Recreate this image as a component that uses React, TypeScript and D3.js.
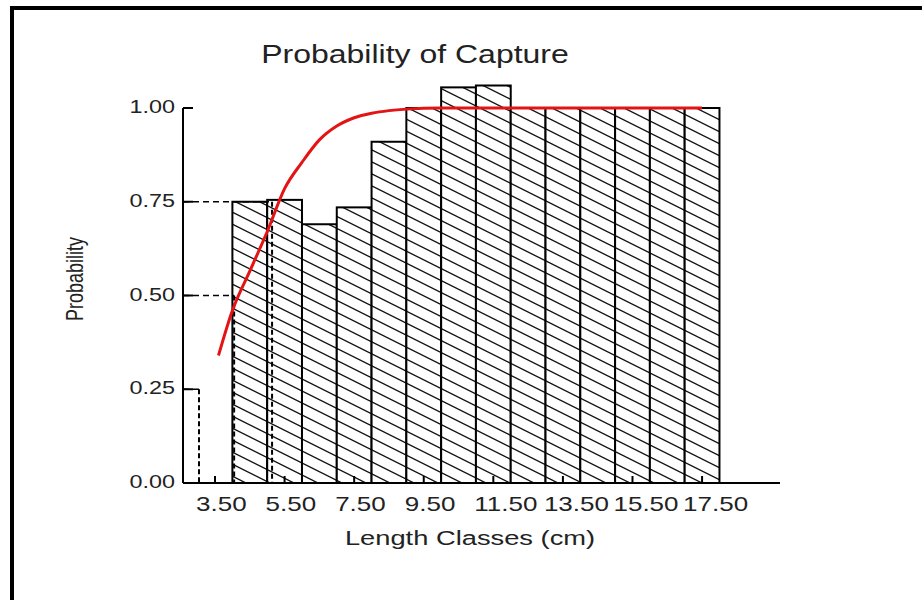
import React, { useRef, useEffect } from "react"
import * as d3 from "d3"

// length classes (lower bound, cm) and observed retention per class
const classLower = [4, 5, 6, 7, 8, 9, 10, 11, 12, 13, 14, 15, 16, 17]
const observedProb = [0.75, 0.755, 0.69, 0.735, 0.91, 1.0, 1.055, 1.06, 1.0, 1.0, 1.0, 1.0, 1.0, 1.0]

// fitted selection curve
const curveLength = [3.6, 4.0, 4.5, 5.0, 5.5, 6.0, 6.5, 7.0, 7.5, 8.0, 8.5, 9.0, 10.0, 11.0, 12.0, 13.0, 14.0, 15.0, 16.0, 17.0, 17.5]
const curveProb = [0.34, 0.46, 0.565, 0.67, 0.785, 0.855, 0.915, 0.952, 0.974, 0.986, 0.993, 0.997, 1.0, 1.0, 1.0, 1.0, 1.0, 1.0, 1.0, 1.0, 1.0]

// L25, L50, L75 markers
const selProb = [0.25, 0.5, 0.75]
const selLength = [3.04, 4.05, 5.14]

const xTicks = [3.5, 5.5, 7.5, 9.5, 11.5, 13.5, 15.5, 17.5]
const yTicks = [0, 0.25, 0.5, 0.75, 1.0]

const W = 922
const H = 600
const SX = 1.3 // the picture is stretched sideways, so is the text

const App: React.FC = () => {
  const svgRef = useRef<SVGSVGElement | null>(null)

  useEffect(() => {
    if (!svgRef.current) return
    const svg = d3.select(svgRef.current)
    svg.selectAll("*").remove()

    const font = "Arial, 'Liberation Sans', sans-serif"
    const x = d3.scaleLinear().domain([2.58, 19.74]).range([183, 780])
    const y = d3.scaleLinear().domain([0, 1]).range([483, 108])
    const [x0, x1] = x.range()
    const [y0, y1] = y.range()

    // frame
    svg.append("line").attr("x1", 12).attr("x2", 12).attr("y1", 6).attr("y2", H)
      .attr("stroke", "#000").attr("stroke-width", 4)
    svg.append("line").attr("x1", 10).attr("x2", W).attr("y1", 8).attr("y2", 8)
      .attr("stroke", "#000").attr("stroke-width", 4)

    // hatch pattern
    const pat = svg.append("defs").append("pattern")
      .attr("id", "hatch").attr("patternUnits", "userSpaceOnUse")
      .attr("width", 24).attr("height", 12)
    pat.append("rect").attr("width", 24).attr("height", 12).attr("fill", "#fff")
    pat.append("path").attr("d", "M-2,-1 L26,13 M-2,11 L2,13 M22,-1 L26,1")
      .attr("stroke", "#111").attr("stroke-width", 1.3)

    // bars
    svg.append("g").selectAll("rect")
      .data(classLower)
      .enter()
      .append("rect")
      .attr("x", (d) => x(d))
      .attr("y", (d, i) => y(observedProb[i]))
      .attr("width", (d) => x(d + 1) - x(d))
      .attr("height", (d, i) => y(0) - y(observedProb[i]))
      .attr("fill", "url(#hatch)")
      .attr("stroke", "#000")
      .attr("stroke-width", 2)

    // L25 / L50 / L75 guides
    const guides = svg.append("g")
    selProb.forEach((p, i) => {
      guides.append("line")
        .attr("x1", x0).attr("x2", x(selLength[i]))
        .attr("y1", y(p)).attr("y2", y(p))
        .attr("stroke", "#000").attr("stroke-width", 1.5)
        .attr("stroke-dasharray", "6,4")
      guides.append("line")
        .attr("x1", x(selLength[i])).attr("x2", x(selLength[i]))
        .attr("y1", y(p)).attr("y2", y(0))
        .attr("stroke", "#000").attr("stroke-width", 2)
        .attr("stroke-dasharray", "5,3")
    })

    // fitted curve
    const line = d3.line<number>()
      .x((d) => x(d))
      .y((d, i) => y(curveProb[i]))
      .curve(d3.curveMonotoneX)
    svg.append("path")
      .attr("d", line(curveLength))
      .attr("fill", "none")
      .attr("stroke", "#e41414")
      .attr("stroke-width", 3)

    // axes
    svg.append("line").attr("x1", x0).attr("x2", x0).attr("y1", y0).attr("y2", y1)
      .attr("stroke", "#000").attr("stroke-width", 2)
    svg.append("line").attr("x1", x0).attr("x2", x1).attr("y1", y0).attr("y2", y0)
      .attr("stroke", "#000").attr("stroke-width", 2)

    const fmt = d3.format(".2f")

    const yAx = svg.append("g")
    yTicks.forEach((t) => {
      yAx.append("line").attr("x1", x0).attr("x2", x0 + 10).attr("y1", y(t)).attr("y2", y(t))
        .attr("stroke", "#000").attr("stroke-width", 2)
      yAx.append("text")
        .attr("transform", `translate(175,${y(t) + 5}) scale(${SX},1)`)
        .attr("text-anchor", "end")
        .attr("font-family", font).attr("font-size", 18).attr("fill", "#222")
        .text(fmt(t))
    })

    const xAx = svg.append("g")
    xTicks.forEach((t) => {
      xAx.append("line").attr("x1", x(t)).attr("x2", x(t)).attr("y1", y0).attr("y2", y0 - 7)
        .attr("stroke", "#000").attr("stroke-width", 2)
      xAx.append("text")
        .attr("transform", `translate(${x(t) - 19},511) scale(${SX},1)`)
        .attr("font-family", font).attr("font-size", 20).attr("fill", "#222")
        .text(fmt(t))
    })

    // titles
    svg.append("text")
      .attr("transform", `translate(415,63) scale(1.28,1)`)
      .attr("text-anchor", "middle")
      .attr("font-family", font).attr("font-size", 25).attr("fill", "#222")
      .text("Probability of Capture")
    svg.append("text")
      .attr("transform", `translate(470,545) scale(${SX},1)`)
      .attr("text-anchor", "middle")
      .attr("font-family", font).attr("font-size", 21).attr("fill", "#222")
      .text("Length Classes (cm)")
    svg.append("text")
      .attr("transform", `translate(83,279) scale(${SX},1) rotate(-90)`)
      .attr("text-anchor", "middle")
      .attr("font-family", font).attr("font-size", 18).attr("fill", "#222")
      .text("Probability")
  }, [])

  return (
    <svg
      ref={svgRef}
      width={W}
      height={H}
      style={{ position: "absolute", left: 0, top: 0, display: "block", background: "#fff" }}
    ></svg>
  )
}

export default App
